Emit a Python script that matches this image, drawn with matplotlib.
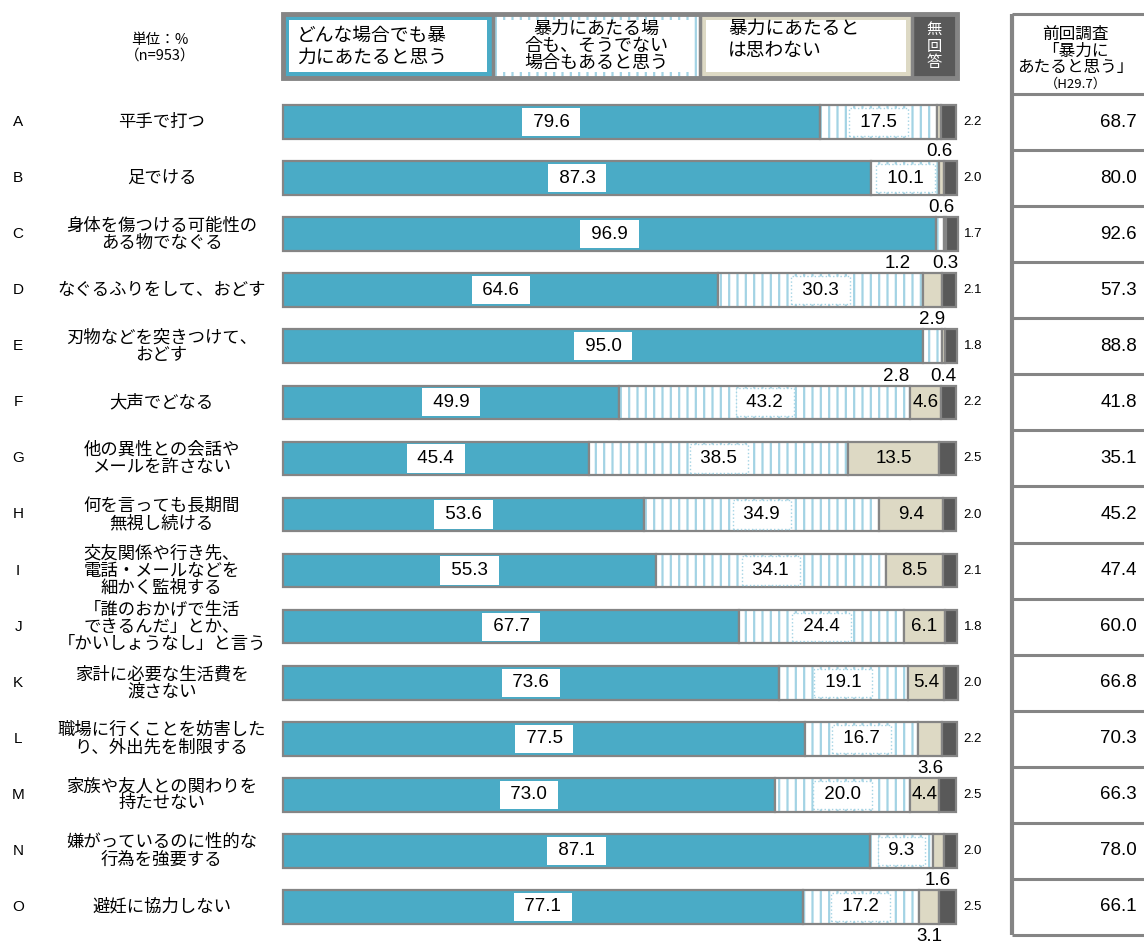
import matplotlib
matplotlib.use("Agg")
import matplotlib.pyplot as plt
from matplotlib.patches import Rectangle
import numpy as np

plt.rcParams['font.family'] = ['Noto Sans CJK JP', 'DejaVu Sans']
plt.rcParams['hatch.linewidth'] = 1.6

LETTERS = ["A", "B", "C", "D", "E", "F", "G", "H", "I", "J", "K", "L", "M", "N", "O"]
ITEMS = [
    "平手で打つ",
    "足でける",
    "身体を傷つける可能性の\nある物でなぐる",
    "なぐるふりをして、おどす",
    "刃物などを突きつけて、\nおどす",
    "大声でどなる",
    "他の異性との会話や\nメールを許さない",
    "何を言っても長期間\n無視し続ける",
    "交友関係や行き先、\n電話・メールなどを\n細かく監視する",
    "「誰のおかげで生活\nできるんだ」とか、\n「かいしょうなし」と言う",
    "家計に必要な生活費を\n渡さない",
    "職場に行くことを妨害した\nり、外出先を制限する",
    "家族や友人との関わりを\n持たせない",
    "嫌がっているのに性的な\n行為を強要する",
    "避妊に協力しない",
]
ALWAYS = [79.6, 87.3, 96.9, 64.6, 95.0, 49.9, 45.4, 53.6, 55.3, 67.7, 73.6, 77.5, 73.0, 87.1, 77.1]
SOMETIMES = [17.5, 10.1, 1.2, 30.3, 2.8, 43.2, 38.5, 34.9, 34.1, 24.4, 19.1, 16.7, 20.0, 9.3, 17.2]
NOT_VIOLENCE = [0.6, 0.6, 0.3, 2.9, 0.4, 4.6, 13.5, 9.4, 8.5, 6.1, 5.4, 3.6, 4.4, 1.6, 3.1]
NO_ANSWER = [2.2, 2.0, 1.7, 2.1, 1.8, 2.2, 2.5, 2.0, 2.1, 1.8, 2.0, 2.2, 2.5, 2.0, 2.5]
PREVIOUS = [68.7, 80.0, 92.6, 57.3, 88.8, 41.8, 35.1, 45.2, 47.4, 60.0, 66.8, 70.3, 66.3, 78.0, 66.1]

LEGEND_LABELS = ["どんな場合でも暴\n力にあたると思う",
                 "暴力にあたる場\n合も、そうでない\n場合もあると思う",
                 "暴力にあたると\nは思わない",
                 "無\n回\n答"]
TABLE_HEADER = "前回調査\n「暴力に\nあたると思う」"
TABLE_SUB = "（H29.7）"

BLUE = "#4aabc6"
BEIGE = "#ddd9c4"
DARK = "#595959"
STRIPE = "#a3d3e4"
EDGE = "#858585"
NUM_FONT = "Liberation Sans"

W, H = 1144, 941


def fx(px):
    return px / W


def fy(py):
    return 1 - py / H


fig = plt.figure(figsize=(W / 100, H / 100), dpi=100)

# main bars
ax = fig.add_axes([fx(283), fy(935), (957 - 283) / W, (935 - 94) / H])
ax.set_xlim(0, 100)
ax.set_ylim(14.5, -0.5)
ax.axis("off")

y = np.arange(len(ITEMS))
always = np.array(ALWAYS)
some = np.array(SOMETIMES)
notv = np.array(NOT_VIOLENCE)
noans = np.array(NO_ANSWER)
left3 = always + some
left4 = left3 + notv
BH = 0.6

ax.barh(y, always, height=BH, color=BLUE, edgecolor=EDGE, linewidth=1.6, clip_on=False)
ax.barh(y, some, left=always, height=BH, facecolor="white", edgecolor=STRIPE,
        linewidth=0, hatch="||", clip_on=False)
ax.barh(y, some, left=always, height=BH, fill=False, edgecolor=EDGE, linewidth=1.6, clip_on=False)
ax.barh(y, notv, left=left3, height=BH, color=BEIGE, edgecolor=EDGE, linewidth=1.6, clip_on=False)
ax.barh(y, noans, left=left4, height=BH, color=DARK, edgecolor=EDGE, linewidth=1.6, clip_on=False)

box1 = dict(facecolor="white", edgecolor="none", boxstyle="square,pad=0.3")
box2 = dict(facecolor="white", edgecolor=STRIPE, linestyle=":", linewidth=1, boxstyle="square,pad=0.3")
for i in range(len(ITEMS)):
    ax.text(always[i] / 2, i, f" {always[i]:.1f} ", ha="center", va="center",
            fontsize=13.5, family=NUM_FONT, bbox=box1)
    c3 = left3[i] + notv[i] / 2
    if some[i] >= 5:
        ax.text(always[i] + some[i] / 2, i, f" {some[i]:.1f} ", ha="center", va="center",
                fontsize=13.5, family=NUM_FONT, bbox=box2)
    else:
        ax.text(c3 - 7, i + 0.53, f"{some[i]:.1f}", ha="center", va="center",
                fontsize=13.5, family=NUM_FONT)
    if notv[i] >= 4:
        ax.text(c3, i, f"{notv[i]:.1f}", ha="center", va="center",
                fontsize=13.5, family=NUM_FONT)
    else:
        ax.text(c3, i + 0.53, f"{notv[i]:.1f}", ha="center", va="center",
                fontsize=13.5, family=NUM_FONT)
    ax.text(101.0, i, f"{noans[i]:.1f}", ha="left", va="center", fontsize=9.5, family=NUM_FONT)
    ax.text(-39.3, i, LETTERS[i], ha="center", va="center", fontsize=11, family=NUM_FONT)
    ax.text(-18.0, i, ITEMS[i], ha="center", va="center", fontsize=12.5, linespacing=0.95)

# legend strip
lax = fig.add_axes([fx(283), fy(78), (957 - 283) / W, (78 - 14) / H])
lax.set_xlim(0, 100)
lax.set_ylim(0, 1)
lax.axis("off")
bounds = [0, 31.2, 61.9, 93.3, 100]
ix, iy = 0.9, 0.1
lax.add_patch(Rectangle((bounds[0], 0), bounds[1] - bounds[0], 1, facecolor=BLUE, edgecolor="none"))
lax.add_patch(Rectangle((bounds[1], 0), bounds[2] - bounds[1], 1, facecolor="white",
                        edgecolor=STRIPE, linewidth=0, hatch="||"))
lax.add_patch(Rectangle((bounds[2], 0), bounds[3] - bounds[2], 1, facecolor=BEIGE, edgecolor="none"))
lax.add_patch(Rectangle((bounds[3], 0), bounds[4] - bounds[3], 1, facecolor=DARK, edgecolor="none"))
for k in range(3):
    lax.add_patch(Rectangle((bounds[k] + ix, iy), bounds[k + 1] - bounds[k] - 2 * ix, 1 - 2 * iy,
                            facecolor="white", edgecolor="none"))
for b in bounds[1:-1]:
    lax.axvline(b, color=EDGE, linewidth=2.5)
lax.add_patch(Rectangle((0, 0), 100, 1, fill=False, edgecolor=EDGE, linewidth=3.5, clip_on=False))
lax.text(2.1, 0.5, LEGEND_LABELS[0], ha="left", va="center", fontsize=13.5, linespacing=1.05)
lax.text(46.5, 0.5, LEGEND_LABELS[1], ha="center", va="center", fontsize=13, linespacing=0.95)
lax.text(66.0, 0.6, LEGEND_LABELS[2], ha="left", va="center", fontsize=13.5, linespacing=1.05)
lax.text(96.65, 0.5, LEGEND_LABELS[3], ha="center", va="center", fontsize=11,
         color="white", linespacing=0.95)

fig.text(fx(160), fy(40), "単位：%", ha="center", va="center", fontsize=10.5)
fig.text(fx(160), fy(56), "（n=953）", ha="center", va="center", fontsize=10.5)

# previous survey table
tax = fig.add_axes([fx(1012), fy(935), (1160 - 1012) / W, (935 - 94) / H])
tax.set_xlim(0, 1)
tax.set_ylim(14.5, -0.5)
tax.axis("off")
top = -0.5 - (94 - 14) / ((935 - 94) / 15)
tax.hlines([top] + list(np.arange(-0.5, 15, 1.0)), 0, 1, color=EDGE, linewidth=2.2, clip_on=False)
tax.vlines(0, top, 14.5, color=EDGE, linewidth=3, clip_on=False)
tax.text(0.43, top + 0.66, TABLE_HEADER, ha="center", va="center", fontsize=12, linespacing=0.95)
tax.text(0.43, top + 1.25, TABLE_SUB, ha="center", va="center", fontsize=9.5)
for i, v in enumerate(PREVIOUS):
    tax.text(0.72, i, f"{v:.1f}", ha="center", va="center", fontsize=13.5, family=NUM_FONT)

fig.savefig("out.png", dpi=100)
